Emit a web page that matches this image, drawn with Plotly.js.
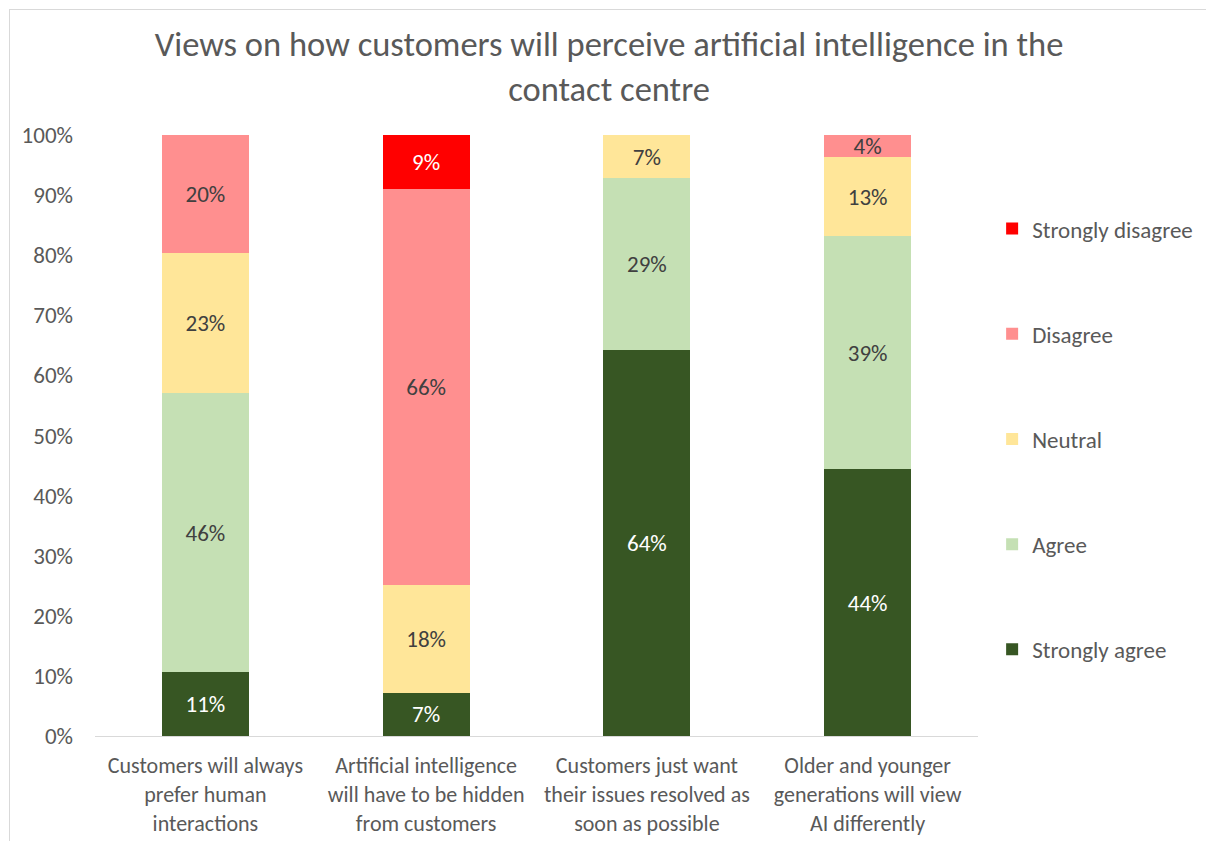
<!DOCTYPE html>
<html>
<head>
<meta charset="utf-8">
<script src="https://cdn.plot.ly/plotly-3.0.1.min.js"></script>
<style>
  body { margin: 0; background: #fff; }
  #frame { position: absolute; left: 9px; top: 9px; width: 1300px; height: 900px;
           border-left: 1px solid #d9d9d9; border-top: 1px solid #d9d9d9; pointer-events: none; }
  #chart { position: absolute; left: 0; top: 0; width: 1206px; height: 841px; }
</style>
</head>
<body>
<div id="chart"></div>
<div id="frame"></div>
<script>
// categories (x axis)
const categories = [
    'Customers will always<br>prefer human<br>interactions',
    'Artificial intelligence<br>will have to be hidden<br>from customers',
    'Customers just want<br>their issues resolved as<br>soon as possible',
    'Older and younger<br>generations will view<br>AI differently'
];

// share of respondents, %
const stronglyAgree    = [10.6, 7.2, 64.2, 44.4];
const agree            = [46.4, 0, 28.6, 38.8];
const neutral          = [23.3, 17.9, 7.2, 13.1];
const disagree         = [19.7, 65.9, 0, 3.7];
const stronglyDisagree = [0, 9.0, 0, 0];

const FONT = 'Calibri, Carlito, Lato, sans-serif';

function series(name, values, color, textColor, rank) {
    return {
        type: 'bar',
        name: name,
        x: categories,
        y: values,
        legendgroup: name,
        legendrank: rank,
        marker: { color: color },
        text: values.map(v => v > 0 ? Math.round(v) + '%' : ''),
        textposition: 'inside',
        insidetextanchor: 'middle',
        constraintext: 'none',
        textfont: { family: FONT, size: 23, color: textColor },
        hoverinfo: 'skip'
    };
}

const traces = [
    series('Strongly agree', stronglyAgree, '#375623', '#ffffff', 5),
    series('Agree', agree, '#c5e0b4', '#404040', 4),
    series('Neutral', neutral, '#ffe699', '#404040', 3),
    series('Disagree', disagree, '#ff8f8f', '#404040', 2),
    series('Strongly disagree', stronglyDisagree, '#ff0000', '#ffffff', 1)
];

const layout = {
    width: 1206,
    height: 841,
    barmode: 'stack',
    bargap: 0.606,
    margin: { t: 135, b: 105, l: 95, r: 228, autoexpand: false },
    paper_bgcolor: '#ffffff',
    plot_bgcolor: '#ffffff',
    font: { family: FONT, color: '#595959', size: 22 },
    title: {
        text: 'Views on how customers will perceive artificial intelligence in the<br>contact centre',
        font: { family: FONT, size: 34.5, color: '#595959' },
        x: 0.505,
        xanchor: 'center',
        y: 0.933,
        yanchor: 'top'
    },
    xaxis: {
        showgrid: false,
        showline: true,
        linecolor: '#d9d9d9',
        linewidth: 1,
        ticks: '',
        ticklabelstandoff: 10,
        tickfont: { family: FONT, size: 22, color: '#595959' }
    },
    yaxis: {
        range: [0, 100],
        dtick: 10,
        ticksuffix: '%',
        showgrid: false,
        zeroline: false,
        showline: false,
        ticks: '',
        ticklabelstandoff: 21,
        tickfont: { family: FONT, size: 23, color: '#595959' }
    },
    legend: {
        x: 1.016,
        xanchor: 'left',
        y: 0.88,
        yanchor: 'top',
        traceorder: 'grouped',
        tracegroupgap: 72.3,
        font: { family: FONT, size: 23, color: '#595959' }
    }
};

Plotly.newPlot('chart', traces, layout, { displayModeBar: false, staticPlot: true });
</script>
</body>
</html>
